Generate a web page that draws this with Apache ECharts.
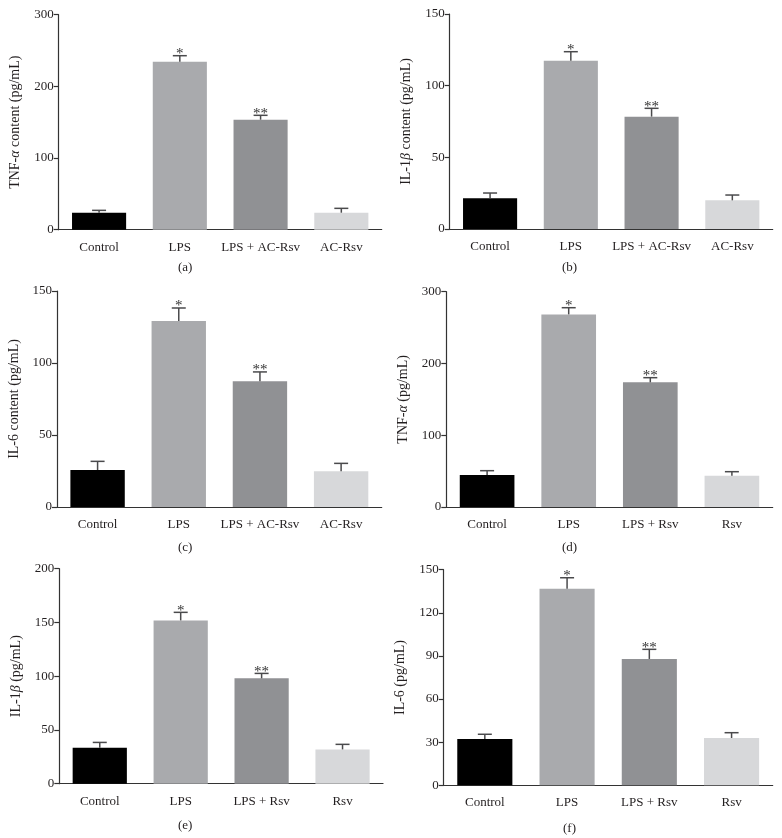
<!DOCTYPE html>
<html>
<head>
<meta charset="utf-8">
<script src="https://cdn.jsdelivr.net/npm/echarts@6/dist/echarts.min.js"></script>
<style>
html,body{margin:0;padding:0;background:#fff;}
#chart{width:782px;height:838px;}
</style>
</head>
<body>
<div id="chart"></div>
<script>
// ---- data ----
const categoriesAC = ['Control', 'LPS', 'LPS + AC-Rsv', 'AC-Rsv'];
const categoriesRsv = ['Control', 'LPS', 'LPS + Rsv', 'Rsv'];
const stars = ['', '*', '**', ''];

const valuesA = [23.7, 234.4, 153.5, 23.7];
const errorsA = [3.3, 8.4, 6.1, 6.1];
const valuesB = [21.4, 117.4, 78.4, 20.0];
const errorsB = [3.7, 6.3, 5.8, 3.7];
const valuesC = [25.7, 129.2, 87.3, 24.8];
const errorsC = [6.0, 9.0, 6.5, 5.5];
const valuesD = [44.6, 268.4, 173.7, 43.7];
const errorsD = [6.0, 9.3, 6.5, 5.5];
const valuesE = [33.5, 151.9, 98.0, 31.9];
const errorsE = [4.9, 7.5, 4.6, 4.7];
const valuesF = [32.2, 136.8, 87.9, 32.9];
const errorsF = [3.3, 7.6, 6.7, 3.7];

// rich-text markup {i|…} makes the Greek letter italic
const yTitles = ['TNF-{i|α} content (pg/mL)', 'IL-1{i|β} content (pg/mL)', 'IL-6 content (pg/mL)',
                 'TNF-{i|α} (pg/mL)', 'IL-1{i|β} (pg/mL)', 'IL-6 (pg/mL)'];
const yMax = [300, 150, 150, 300, 200, 150];
const yInterval = [100, 50, 50, 100, 50, 30];
const panelLabels = ['(a)', '(b)', '(c)', '(d)', '(e)', '(f)'];

// ---- styling/layout ----
const barColors = ['#000000', '#a9aaad', '#909194', '#d7d8da'];
const FONT = '"Liberation Serif", "DejaVu Serif", serif';
const TXT = '#231f20';
const grids = [
  {left: 58.7, top: 14.7, width: 323, height: 215},
  {left: 449.7, top: 14, width: 323, height: 215},
  {left: 57, top: 291, width: 324.7, height: 216},
  {left: 446.3, top: 291.7, width: 326.4, height: 215.3},
  {left: 59.3, top: 568.7, width: 323.7, height: 215},
  {left: 443.7, top: 569.7, width: 329, height: 215.6}
];
const labelPos = [[186, 269], [570, 269], [186, 549], [570, 549], [186, 827], [571, 830]];

const panels = [
  {cats: categoriesAC, v: valuesA, e: errorsA},
  {cats: categoriesAC, v: valuesB, e: errorsB},
  {cats: categoriesAC, v: valuesC, e: errorsC},
  {cats: categoriesRsv, v: valuesD, e: errorsD},
  {cats: categoriesRsv, v: valuesE, e: errorsE},
  {cats: categoriesRsv, v: valuesF, e: errorsF}
];

function renderErr(params, api) {
  const idx = api.value(0), v = api.value(1), e = api.value(2);
  const star = stars[idx];
  const p0 = api.coord([idx, v]);
  const p1 = api.coord([idx, v + e]);
  const hw = 7;
  const style = {stroke: '#4a4a4c', lineWidth: 1.5};
  const children = [
    {type: 'line', shape: {x1: p0[0], y1: p0[1], x2: p1[0], y2: p1[1]}, style: style},
    {type: 'line', shape: {x1: p1[0] - hw, y1: p1[1], x2: p1[0] + hw, y2: p1[1]}, style: style}
  ];
  if (star) {
    children.push({type: 'text', style: {text: star, x: p1[0], y: p1[1] + 6,
      align: 'center', verticalAlign: 'bottom', textAlign: 'center', textVerticalAlign: 'bottom',
      fontSize: 15, fontFamily: FONT, fill: '#333'}});
  }
  return {type: 'group', children: children};
}

const option = {
  animation: false,
  backgroundColor: '#fff',
  grid: grids.map(g => Object.assign({containLabel: false}, g)),
  xAxis: panels.map((p, i) => ({
    type: 'category', gridIndex: i, data: p.cats,
    axisLine: {lineStyle: {color: '#333', width: 1.2}},
    axisTick: {alignWithLabel: true, length: 5, lineStyle: {color: '#333', width: 1.2}},
    axisLabel: {color: TXT, fontFamily: FONT, fontSize: 13, margin: 11, interval: 0}
  })),
  yAxis: panels.map((p, i) => ({
    type: 'value', gridIndex: i, min: 0, max: yMax[i], interval: yInterval[i],
    name: yTitles[i], nameLocation: 'middle', nameGap: 36,
    nameTextStyle: {color: TXT, fontFamily: FONT, fontSize: 14,
      rich: {i: {fontStyle: 'italic', fontFamily: FONT, fontSize: 14, color: TXT}}},
    axisLine: {show: true, lineStyle: {color: '#333', width: 1.2}},
    axisTick: {show: true, length: 5, lineStyle: {color: '#333', width: 1.2}},
    axisLabel: {color: TXT, fontFamily: FONT, fontSize: 13, margin: 5},
    splitLine: {show: false}
  })),
  graphic: panelLabels.map((t, i) => ({
    type: 'text', left: labelPos[i][0] - 8, top: labelPos[i][1] - 8,
    style: {text: t, fontFamily: FONT, fontSize: 13, fill: TXT}
  })),
  series: []
};

panels.forEach((p, i) => {
  option.series.push({
    type: 'bar', xAxisIndex: i, yAxisIndex: i, barCategoryGap: '33%',
    data: p.v.map((val, k) => ({value: val, itemStyle: {color: barColors[k]}})),
    z: 2
  });
  option.series.push({
    type: 'custom', xAxisIndex: i, yAxisIndex: i, renderItem: renderErr,
    data: p.v.map((val, k) => [k, val, p.e[k]]),
    z: 3
  });
});

const chart = echarts.init(document.getElementById('chart'), null, {renderer: 'canvas'});
chart.setOption(option);
</script>
</body>
</html>
